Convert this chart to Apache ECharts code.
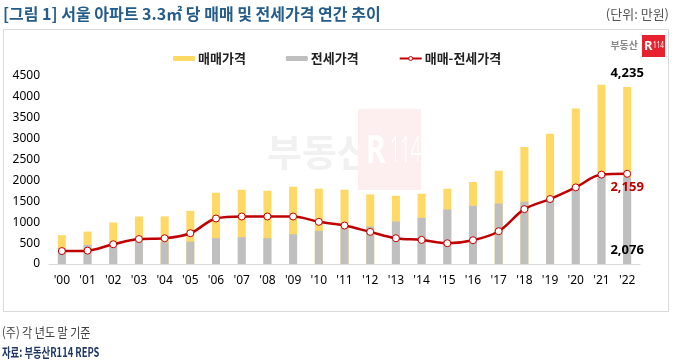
<!DOCTYPE html>
<html>
<head>
<meta charset="utf-8">
<script src="https://cdn.jsdelivr.net/npm/echarts@6/dist/echarts.min.js"></script>
<style>
html,body{margin:0;padding:0;background:#fff;}
#c{width:680px;height:364px;}
</style>
</head>
<body>
<div id="c"></div>
<script>
const years = ["'00","'01","'02","'03","'04","'05","'06","'07","'08","'09","'10","'11","'12","'13","'14","'15","'16","'17","'18","'19","'20","'21","'22"];
const salePrice = [690, 776, 993, 1137, 1140, 1273, 1706, 1778, 1754, 1850, 1802, 1778, 1666, 1634, 1682, 1802, 1962, 2234, 2803, 3115, 3724, 4290, 4235];
const jeonsePrice = [380, 456, 520, 540, 523, 536, 617, 641, 617, 713, 793, 857, 897, 1017, 1105, 1305, 1393, 1449, 1490, 1560, 1890, 2150, 2076];
const gapPrice = [310, 320, 473, 597, 617, 737, 1089, 1137, 1137, 1137, 1009, 921, 769, 617, 577, 497, 569, 785, 1313, 1555, 1834, 2140, 2159];
const yTicks = [0, 500, 1000, 1500, 2000, 2500, 3000, 3500, 4000, 4500];

const KR = '"Noto Sans CJK KR", "Noto Sans", sans-serif';
const last = years.length - 1;
const fmt = v => v.toLocaleString('en-US');

const saleData = salePrice.map((v, i) => i === last ? {value: v, label: {show: true, position: 'top', distance: 7, formatter: fmt(v), color: '#000', fontWeight: 'bold', fontSize: 13, fontFamily: 'Noto Sans'}} : v);
const jeonseData = jeonsePrice.map((v, i) => i === last ? {value: v, label: {show: true, position: 'insideBottom', distance: 7, formatter: fmt(v), color: '#000', fontWeight: 'bold', fontSize: 13, fontFamily: 'Noto Sans'}} : v);
const gapData = gapPrice.map((v, i) => i === last ? {value: v, label: {show: true, position: 'bottom', distance: 3, formatter: fmt(v), color: '#c00000', fontWeight: 'bold', fontSize: 13, fontFamily: 'Noto Sans'}} : v);

const chart = echarts.init(document.getElementById('c'), null, {renderer: 'canvas'});
chart.setOption({
  animation: false,
  backgroundColor: '#fff',
  graphic: [
    {type: 'rect', z: -10, shape: {x: 3.5, y: 29.5, width: 665, height: 282}, style: {fill: 'none', stroke: '#d9d9d9', lineWidth: 1}},
    {type: 'text', style: {text: '[그림 1] 서울 아파트 3.3㎡ 당 매매 및 전세가격 연간 추이', x: 3, y: 14, textVerticalAlign: 'middle', font: 'bold 16px ' + KR, fill: '#245d8a'}},
    {type: 'text', style: {text: '(단위: 만원)', x: 669, y: 14, textAlign: 'right', textVerticalAlign: 'middle', font: '13px ' + KR, fill: '#555'}},
    // watermark
    {type: 'text', z: -5, style: {text: '부동산', x: 267, y: 152, textVerticalAlign: 'middle', font: 'bold 38px ' + KR, fill: '#f1f1f1'}},
    {type: 'rect', z: -5, shape: {x: 358, y: 109, width: 63, height: 81}, style: {fill: '#fdeef0'}},
    {type: 'text', z: -4, x: 366, y: 152, scaleX: 0.75, style: {text: 'R', x: 0, y: 0, textVerticalAlign: 'middle', font: 'bold 40px "Noto Sans"', fill: '#ffffff'}},
    {type: 'text', z: -4, x: 390, y: 152, scaleX: 0.5, style: {text: '114', x: 0, y: 0, textVerticalAlign: 'middle', font: '300 36px "Noto Sans"', fill: '#ffffff'}},
    // logo top right
    {type: 'text', style: {text: '부동산', x: 638, y: 45, textAlign: 'right', textVerticalAlign: 'middle', font: 'bold 10px ' + KR, fill: '#888'}},
    {type: 'rect', shape: {x: 642, y: 35, width: 23, height: 22}, style: {fill: '#e8212f'}},
    {type: 'text', style: {text: 'R', x: 644, y: 46, textVerticalAlign: 'middle', font: 'bold 13px "Noto Sans"', fill: '#fff'}},
    {type: 'text', x: 653, y: 46, scaleX: 0.8, style: {text: '114', x: 0, y: 0, textVerticalAlign: 'middle', font: '8px "Noto Sans"', fill: '#fff'}},
    // footer
    {type: 'text', x: 2, y: 332, scaleX: 0.85, style: {text: '(주) 각 년도 말 기준', x: 0, y: 0, textVerticalAlign: 'middle', font: '13px ' + KR, fill: '#404040'}},
    {type: 'text', x: 2, y: 352, scaleX: 0.72, style: {text: '자료: 부동산R114 REPS', x: 0, y: 0, textVerticalAlign: 'middle', font: 'bold 13px ' + KR, fill: '#1f3864'}}
  ],
  legend: {
    left: 168, top: 47,
    itemWidth: 22, itemHeight: 5, itemGap: 40,
    textStyle: {fontSize: 13, fontWeight: 'bold', color: '#222', fontFamily: KR, padding: [0, 0, 0, -2]},
    data: ['매매가격', '전세가격', {name: '매매-전세가격', itemStyle: {color: '#fff', borderColor: '#c00000', borderWidth: 1}}]
  },
  grid: {left: 49, width: 591, top: 76, height: 188},
  xAxis: {
    type: 'category', data: years,
    axisLine: {lineStyle: {color: '#d9d9d9', width: 1}},
    axisTick: {show: false},
    axisLabel: {color: '#000', fontSize: 12, fontFamily: 'Noto Sans', margin: 11}
  },
  yAxis: {
    type: 'value', min: yTicks[0], max: yTicks[yTicks.length - 1], interval: yTicks[1] - yTicks[0],
    splitLine: {show: false}, axisLine: {show: false}, axisTick: {show: false},
    axisLabel: {color: '#000', fontSize: 12, fontFamily: 'Noto Sans', margin: 9, formatter: v => String(v)}
  },
  series: [
    {name: '매매가격', type: 'bar', data: saleData, barWidth: 8, itemStyle: {color: '#ffd966'}, z: 1},
    {name: '전세가격', type: 'bar', data: jeonseData, barWidth: 8, barGap: '-100%', itemStyle: {color: '#bfbfbf'}, z: 2},
    {name: '매매-전세가격', type: 'line', data: gapData, smooth: 0.35, symbol: 'circle', symbolSize: 7,
      lineStyle: {color: '#c00000', width: 2.5},
      itemStyle: {color: '#fff', borderColor: '#c00000', borderWidth: 1}, z: 5}
  ]
});
</script>
</body>
</html>
